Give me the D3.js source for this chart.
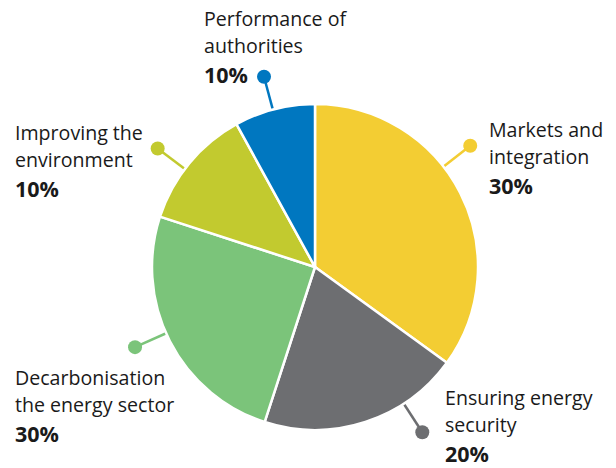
<!DOCTYPE html>
<html>
<head>
<meta charset="utf-8">
<script src="https://cdn.jsdelivr.net/npm/d3@7"></script>
<style>
  body { margin: 0; background: #fff; }
  text { font-family: "Open Sans", sans-serif; fill: #1a1a1a; }
</style>
</head>
<body>
<div id="chart"></div>
<script>
// slice shares as drawn (clockwise from 12 o'clock)
var categories = [
  ["Markets and", "integration"],
  ["Ensuring energy", "security"],
  ["Decarbonisation", "the energy sector"],
  ["Improving the", "environment"],
  ["Performance of", "authorities"]
];
var shares = [35, 20, 25, 12, 8];
var percentLabels = ["30%", "20%", "30%", "10%", "10%"];
var colors = ["#f3cd33", "#6d6e71", "#7bc47a", "#c2ca2f", "#0077c0"];

var width = 616, height = 468;
var cx = 315, cy = 267, radius = 163;

// callout layout: angle (deg, clockwise from top) of the leader line and text block origin
var callouts = [
  { angle: 52, tx: 489, ty: 137 },
  { angle: 147, tx: 445, ty: 405 },
  { angle: 246, tx: 15, ty: 385 },
  { angle: 307, tx: 15, ty: 140 },
  { angle: 345, tx: 204, ty: 26 }
];

var svg = d3.select("#chart").append("svg")
  .attr("width", width)
  .attr("height", height);

var pie = d3.pie().sort(null).value(function(d) { return d; });
var arc = d3.arc().innerRadius(0).outerRadius(radius);

var g = svg.append("g").attr("transform", "translate(" + cx + "," + cy + ")");

var arcs = pie(shares);

// leader lines behind the pie
var rad = Math.PI / 180;
g.selectAll("line.leader").data(arcs).enter().append("line")
  .attr("class", "leader")
  .attr("x1", function(d, i) { return Math.sin(callouts[i].angle * rad) * (radius - 5); })
  .attr("y1", function(d, i) { return -Math.cos(callouts[i].angle * rad) * (radius - 5); })
  .attr("x2", function(d, i) { return Math.sin(callouts[i].angle * rad) * 197; })
  .attr("y2", function(d, i) { return -Math.cos(callouts[i].angle * rad) * 197; })
  .attr("stroke", function(d, i) { return colors[i]; })
  .attr("stroke-width", 2.5);

g.selectAll("circle.dot").data(arcs).enter().append("circle")
  .attr("class", "dot")
  .attr("cx", function(d, i) { return Math.sin(callouts[i].angle * rad) * 197; })
  .attr("cy", function(d, i) { return -Math.cos(callouts[i].angle * rad) * 197; })
  .attr("r", 7)
  .attr("fill", function(d, i) { return colors[i]; });

g.selectAll("path").data(arcs).enter().append("path")
  .attr("d", arc)
  .attr("fill", function(d, i) { return colors[i]; })
  .attr("stroke", "#fff")
  .attr("stroke-width", 2.5)
  .attr("stroke-linejoin", "round");

// labels
categories.forEach(function(lines, i) {
  var c = callouts[i];
  var t = svg.append("text").attr("x", c.tx).attr("y", c.ty).attr("font-size", 19.6);
  lines.forEach(function(s, j) {
    t.append("tspan").attr("x", c.tx).attr("y", c.ty + j * 26.5).text(s);
  });
  svg.append("text")
    .attr("x", c.tx)
    .attr("y", c.ty + 57)
    .attr("font-size", 21.5)
    .attr("font-weight", "bold")
    .text(percentLabels[i]);
});
</script>
</body>
</html>
